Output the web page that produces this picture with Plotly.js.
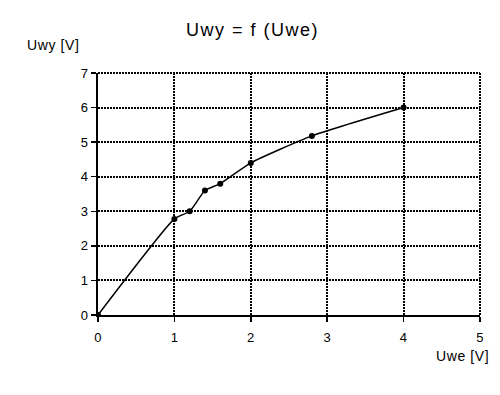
<!DOCTYPE html>
<html><head><meta charset="utf-8">
<script src="https://cdn.plot.ly/plotly-3.0.1.min.js"></script>
<style>body{margin:0;background:#fff}#c{width:500px;height:395px}
.gtitle{letter-spacing:1.5px}
.annotation-text{letter-spacing:0.6px}
.xtick text,.ytick text{letter-spacing:0.3px}
</style>
</head><body><div id="c"></div>
<script>
const uwe = [0, 1, 1.2, 1.4, 1.6, 2, 2.8, 4];
const uwy = [0, 2.78, 3.0, 3.6, 3.8, 4.4, 5.18, 6.0];
const xTicks = [0, 1, 2, 3, 4, 5];
const yTicks = [0, 1, 2, 3, 4, 5, 6, 7];
const F = 'Liberation Sans, Arial, sans-serif';
Plotly.newPlot('c', [{
  x: uwe, y: uwy, mode: 'lines+markers', type: 'scatter',
  line: {color: '#000', width: 1.5, shape: 'spline', smoothing: 0.5},
  marker: {color: '#000', size: 6}
}], {
  width: 500, height: 395,
  margin: {l: 98, r: 20, t: 73, b: 80},
  paper_bgcolor: '#fff', plot_bgcolor: '#fff',
  showlegend: false,
  font: {family: F, size: 13, color: '#000'},
  title: {text: 'Uwy = f (Uwe)', font: {family: F, size: 18, color: '#000'}, x: 0.505, xanchor: 'center', y: 0.925, yanchor: 'middle'},
  xaxis: {range: [0, 5], tickvals: xTicks, showgrid: true, gridcolor: '#000', griddash: '2px,1px', gridwidth: 2,
    showline: true, linecolor: '#000', linewidth: 2, ticks: 'outside', ticklen: 5, tickcolor: '#000', tickwidth: 1.5,
    ticklabelstandoff: 4, zeroline: false, mirror: false, fixedrange: true},
  yaxis: {range: [0, 7], tickvals: yTicks, showgrid: true, gridcolor: '#000', griddash: '2px,1px', gridwidth: 2,
    showline: true, linecolor: '#000', linewidth: 2, ticks: 'outside', ticklen: 5, tickcolor: '#000', tickwidth: 1.5,
    zeroline: false, fixedrange: true},
  shapes: [
    {type: 'line', xref: 'paper', yref: 'paper', x0: 0, x1: 1, y0: 1, y1: 1, line: {color: '#000', width: 2, dash: '2px,1px'}},
    {type: 'line', xref: 'paper', yref: 'paper', x0: 1, x1: 1, y0: 0, y1: 1, line: {color: '#000', width: 2, dash: '2px,1px'}}
  ],
  annotations: [
    {text: 'Uwy [V]', xref: 'paper', yref: 'paper', x: -0.19, y: 1.115, xanchor: 'left', yanchor: 'middle', showarrow: false, font: {family: F, size: 14, color: '#000'}},
    {text: 'Uwe [V]', xref: 'paper', yref: 'paper', x: 1.03, y: -0.17, xanchor: 'right', yanchor: 'middle', showarrow: false, font: {family: F, size: 14, color: '#000'}}
  ]
}, {displayModeBar: false, staticPlot: true});
</script></body></html>
